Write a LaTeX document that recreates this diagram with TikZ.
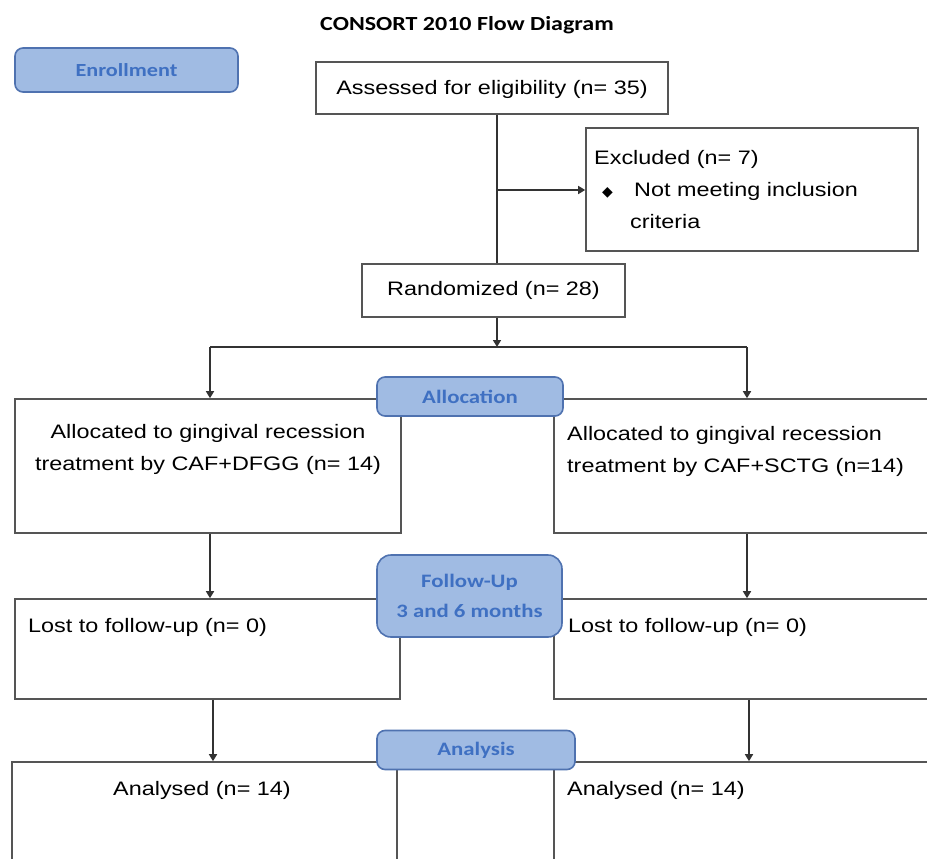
\documentclass[tikz,border=0pt]{standalone}
\usepackage{fontspec}
\setmainfont{Liberation Sans}[FakeStretch=1.2]
\newfontfamily\carlfont{Carlito}[FakeStretch=1.2]
\newfontfamily\symfont{DejaVu Sans}
\usetikzlibrary{arrows.meta}
\definecolor{lblfill}{HTML}{A0BBE3}
\definecolor{lbldraw}{HTML}{4F72B0}
\definecolor{lbltext}{HTML}{3F70C2}
\definecolor{boxline}{HTML}{555555}
\definecolor{conline}{HTML}{333333}
\tikzset{
  box/.style={draw=boxline, line width=1.6pt, fill=white, inner sep=0pt, rectangle},
  lbl/.style={draw=lbldraw, line width=1.6pt, fill=lblfill, rounded corners=8pt, inner sep=0pt,
     text=lbltext, font=\carlfont\bfseries\fontsize{19}{30}\selectfont, align=center},
  txt/.style={inner sep=0pt, font=\fontsize{19.5}{32}\selectfont},
  conn/.style={draw=conline, line width=1.6pt},
  arr/.style={conn, -{Triangle[width=8pt,length=7pt]}}
}
\begin{document}
\begin{tikzpicture}[x=1pt,y=-1pt]
\useasboundingbox (0,0) rectangle (927,859);
\clip (0,0) rectangle (927,859);
\fill[white] (0,0) rectangle (927,859);

% title
\node[inner sep=0pt, font=\carlfont\bfseries\fontsize{20}{24}\selectfont] (title) at (467,25) {CONSORT 2010 Flow Diagram};

% white boxes
\node[box, minimum width=352pt, minimum height=52pt] (ass) at (492,88) {};
\node[txt] (asst) at (492,89) {Assessed for eligibility (n= 35)};

\node[box, minimum width=332pt, minimum height=123pt] (exc) at (752,189.5) {};
\node[txt, anchor=west, align=left] (exct) at (594,190) {Excluded (n= 7)\\\makebox[40pt][l]{\hspace{8pt}{\symfont\fontsize{14}{14}\selectfont ◆}}Not meeting inclusion\\\hspace*{36pt}criteria};

\node[box, minimum width=263pt, minimum height=53pt] (rand) at (493.5,290.5) {};
\node[txt] (randt) at (493.5,290) {Randomized (n= 28)};

\node[box, minimum width=386pt, minimum height=134pt] (al1) at (208,466) {};
\node[txt, align=center] (al1t) at (208,449) {Allocated to gingival recession\\treatment by CAF+DFGG (n= 14)};

\node[box, minimum width=386pt, minimum height=134pt] (al2) at (747,466) {};
\node[txt, anchor=west, align=left] (al2t) at (567,451) {Allocated to gingival recession\\treatment by CAF+SCTG (n=14)};

\node[box, minimum width=385pt, minimum height=100pt] (lo1) at (207.5,649) {};
\node[txt, anchor=west] (lo1t) at (28,627) {Lost to follow-up (n= 0)};

\node[box, minimum width=386pt, minimum height=100pt] (lo2) at (747,649) {};
\node[txt, anchor=west] (lo2t) at (568,627) {Lost to follow-up (n= 0)};

\node[box, minimum width=385pt, minimum height=130pt] (an1) at (204.5,827) {};
\node[txt] (an1t) at (202,790) {Analysed (n= 14)};

\node[box, minimum width=386pt, minimum height=130pt] (an2) at (747,827) {};
\node[txt, anchor=west] (an2t) at (567,790) {Analysed (n= 14)};

% blue labels
\node[lbl, font=\carlfont\bfseries\fontsize{18.5}{20}\selectfont, minimum width=223pt, minimum height=44pt] (enr) at (126.5,70) {Enrollment};
\node[lbl, minimum width=186pt, minimum height=39pt] (allo) at (470,396.5) {Allocation};
\node[lbl, rounded corners=14pt, minimum width=185pt, minimum height=82pt] (fol) at (469.5,596) {Follow-Up\\3 and 6 months};
\node[lbl, minimum width=198pt, minimum height=39pt] (ana) at (476,750) {Analysis};

% connectors
\coordinate (br) at (497,190);
\coordinate (sp) at (497,347);
\coordinate (cl) at (210,347);
\coordinate (cr) at (747,347);
\coordinate (dl) at (213,700);
\coordinate (dr) at (749,700);

\draw[conn] (br |- ass.south) -- (br |- rand.north);
\draw[arr] (br) -- (br -| exc.west);
\draw[arr] (sp |- rand.south) -- (sp);
\draw[conn] (cl) -- (cr);
\draw[arr] (cl) -- (cl |- al1.north);
\draw[arr] (cr) -- (cr |- al2.north);
\draw[arr] (cl |- al1.south) -- (cl |- lo1.north);
\draw[arr] (cr |- al2.south) -- (cr |- lo2.north);
\draw[arr] (dl |- lo1.south) -- (dl |- an1.north);
\draw[arr] (dr |- lo2.south) -- (dr |- an2.north);
\end{tikzpicture}
\end{document}
